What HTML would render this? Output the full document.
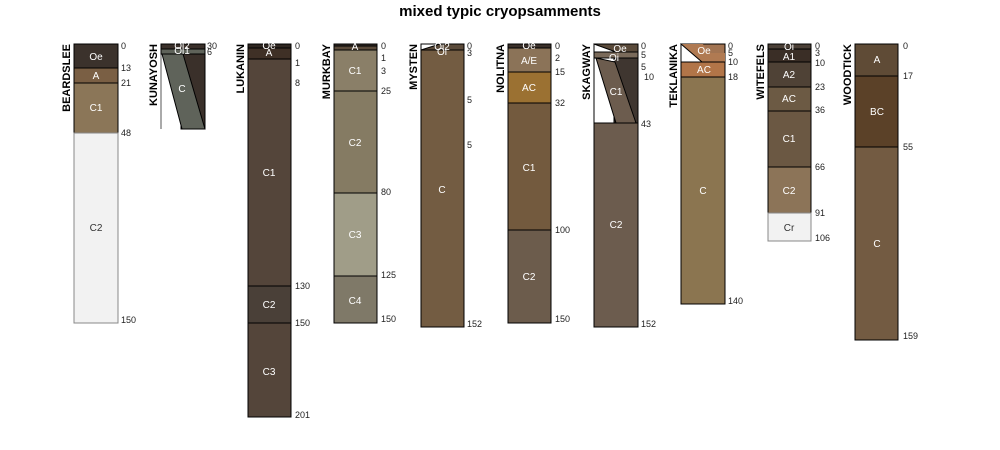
<!DOCTYPE html>
<html><head><meta charset="utf-8"><style>
body{margin:0;background:#fff}
svg{display:block;font-family:"Liberation Sans",sans-serif}
.h{fill:#fff;font-size:10px;text-anchor:middle}
.d{fill:#222;font-size:9px}
.n{font-size:11px;font-weight:bold;fill:#000}
rect,polygon{stroke:#000;stroke-width:1}
</style></head><body>
<svg width="1000" height="450" viewBox="0 0 1000 450">
<rect x="0" y="0" width="1000" height="450" fill="#fff" style="stroke:none"/>
<text x="500" y="16" text-anchor="middle" font-size="15" font-weight="bold">mixed typic cryopsamments</text>

<!-- BEARDSLEE -->
<text class="n" transform="translate(70,44) rotate(-90)" text-anchor="end">BEARDSLEE</text>
<rect x="74" y="44" width="44" height="24" fill="#3b322c"/>
<rect x="74" y="68" width="44" height="15" fill="#7a5f44"/>
<rect x="74" y="83" width="44" height="50" fill="#8b7658"/>
<rect x="74" y="133" width="44" height="190" fill="#f2f2f2" style="stroke:#888"/>
<text class="h" x="96" y="60">Oe</text><text class="h" x="96" y="79">A</text><text class="h" x="96" y="111">C1</text><text class="h" x="96" y="231" style="fill:#333">C2</text>
<text class="d" x="121" y="49">0</text><text class="d" x="121" y="71">13</text><text class="d" x="121" y="86">21</text><text class="d" x="121" y="136">48</text><text class="d" x="121" y="323">150</text>

<!-- KUNAYOSH -->
<text class="n" transform="translate(157,44) rotate(-90)" text-anchor="end">KUNAYOSH</text>
<line x1="161" y1="44" x2="161" y2="129" stroke="#555"/>
<rect x="181" y="54" width="24" height="75" fill="#3a302a"/>
<polygon points="162,54 183,54 205,129 182,129" fill="#5f635a"/>
<rect x="161" y="44" width="44" height="5" fill="#3a302a"/>
<rect x="161" y="49" width="44" height="5" fill="#5f635a"/>
<text class="h" x="182" y="49" font-size="9">Oi2</text><text class="h" x="182" y="54" font-size="9">Oi1</text><text class="h" x="182" y="92">C</text>
<text class="d" x="207" y="49" font-size="7">30</text><text class="d" x="207" y="55" font-size="7">6</text>

<!-- LUKANIN -->
<text class="n" transform="translate(244,44) rotate(-90)" text-anchor="end">LUKANIN</text>
<rect x="248" y="44" width="43" height="4" fill="#2f2620"/>
<rect x="248" y="48" width="43" height="11" fill="#3f3026"/>
<rect x="248" y="59" width="43" height="227" fill="#54453a"/>
<rect x="248" y="286" width="43" height="37" fill="#4a4038"/>
<rect x="248" y="323" width="43" height="94" fill="#54453a"/>
<text class="h" x="269" y="49">Oe</text><text class="h" x="269" y="56">A</text><text class="h" x="269" y="176">C1</text><text class="h" x="269" y="308">C2</text><text class="h" x="269" y="375">C3</text>
<text class="d" x="295" y="49">0</text><text class="d" x="295" y="66">1</text><text class="d" x="295" y="86">8</text><text class="d" x="295" y="289">130</text><text class="d" x="295" y="326">150</text><text class="d" x="295" y="418">201</text>

<!-- MURKBAY -->
<text class="n" transform="translate(330,44) rotate(-90)" text-anchor="end">MURKBAY</text>
<rect x="334" y="44" width="43" height="2" fill="#3a302a"/>
<rect x="334" y="46" width="43" height="4" fill="#5a4a3a"/>
<rect x="334" y="50" width="43" height="41" fill="#8a7f68"/>
<rect x="334" y="91" width="43" height="102" fill="#857b63"/>
<rect x="334" y="193" width="43" height="83" fill="#a09d88"/>
<rect x="334" y="276" width="43" height="47" fill="#7f7968"/>
<text class="h" x="355" y="50">A</text><text class="h" x="355" y="74">C1</text><text class="h" x="355" y="146">C2</text><text class="h" x="355" y="238">C3</text><text class="h" x="355" y="304">C4</text>
<text class="d" x="381" y="49">0</text><text class="d" x="381" y="61">1</text><text class="d" x="381" y="74">3</text><text class="d" x="381" y="94">25</text><text class="d" x="381" y="195">80</text><text class="d" x="381" y="278">125</text><text class="d" x="381" y="322">150</text>

<!-- MYSTEN -->
<text class="n" transform="translate(417,44) rotate(-90)" text-anchor="end">MYSTEN</text>
<rect x="421" y="44" width="43" height="283" fill="#735c42"/>
<rect x="421" y="44" width="43" height="6" fill="#5a4a3a"/>
<polygon points="421,44 440,44 421,50" fill="#fff"/>
<line x1="421" y1="50" x2="464" y2="50" stroke="#000"/>
<text class="h" x="442" y="50" font-size="9">Oi2</text><text class="h" x="442" y="55" font-size="9">Oi</text><text class="h" x="442" y="193">C</text>
<text class="d" x="467" y="49">0</text><text class="d" x="467" y="56">3</text><text class="d" x="467" y="103">5</text><text class="d" x="467" y="148">5</text><text class="d" x="467" y="327">152</text>

<!-- NOLITNA -->
<text class="n" transform="translate(504,44) rotate(-90)" text-anchor="end">NOLITNA</text>
<rect x="508" y="44" width="43" height="4" fill="#3a302a"/>
<rect x="508" y="48" width="43" height="24" fill="#8b7358"/>
<rect x="508" y="72" width="43" height="31" fill="#9b7132"/>
<rect x="508" y="103" width="43" height="127" fill="#735a3e"/>
<rect x="508" y="230" width="43" height="93" fill="#6c5c4c"/>
<text class="h" x="529" y="49">Oe</text><text class="h" x="529" y="64">A/E</text><text class="h" x="529" y="91">AC</text><text class="h" x="529" y="171">C1</text><text class="h" x="529" y="280">C2</text>
<text class="d" x="555" y="49">0</text><text class="d" x="555" y="61">2</text><text class="d" x="555" y="75">15</text><text class="d" x="555" y="106">32</text><text class="d" x="555" y="233">100</text><text class="d" x="555" y="322">150</text>

<!-- SKAGWAY -->
<text class="n" transform="translate(590,44) rotate(-90)" text-anchor="end">SKAGWAY</text>
<rect x="594" y="44" width="44" height="8" fill="#5a4a3a"/>
<polygon points="594,44 616,52 594,52" fill="#fff"/>
<rect x="594" y="52" width="44" height="6" fill="#7a6a5a"/>
<rect x="594" y="58" width="44" height="65" fill="#fff"/>
<rect x="614" y="58" width="24" height="65" fill="#3f3630"/>
<polygon points="596,58 615,62 636,123 616,123" fill="#6c5c4e"/>
<rect x="594" y="123" width="44" height="204" fill="#6c5c4e"/>
<text class="h" x="620" y="52">Oe</text><text class="h" x="614" y="61">Oi</text><text class="h" x="616" y="95">C1</text><text class="h" x="616" y="228">C2</text>
<text class="d" x="641" y="49">0</text><text class="d" x="641" y="58">5</text><text class="d" x="641" y="70">5</text><text class="d" x="644" y="80">10</text><text class="d" x="641" y="127">43</text><text class="d" x="641" y="327">152</text>

<!-- TEKLANIKA -->
<text class="n" transform="translate(677,44) rotate(-90)" text-anchor="end">TEKLANIKA</text>
<rect x="681" y="44" width="44" height="18" fill="#a27452"/>
<polygon points="681,44 703,44 709,53 725,53 725,62 702,62 681,50" fill="#b07a52" style="stroke:none"/>
<polygon points="681,44 702,62 681,62" fill="#fff"/>
<rect x="681" y="62" width="44" height="15" fill="#b27548"/>
<rect x="681" y="77" width="44" height="227" fill="#8b7550"/>
<text class="h" x="704" y="54">Oe</text><text class="h" x="704" y="73">AC</text><text class="h" x="703" y="194">C</text>
<text class="d" x="728" y="49">0</text><text class="d" x="728" y="56">5</text><text class="d" x="728" y="65">10</text><text class="d" x="728" y="80">18</text><text class="d" x="728" y="304">140</text>

<!-- WITEFELS -->
<text class="n" transform="translate(764,44) rotate(-90)" text-anchor="end">WITEFELS</text>
<rect x="768" y="44" width="43" height="5" fill="#4a3f36"/>
<rect x="768" y="49" width="43" height="13" fill="#3a2e26"/>
<rect x="768" y="62" width="43" height="25" fill="#4f4236"/>
<rect x="768" y="87" width="43" height="24" fill="#6c5a44"/>
<rect x="768" y="111" width="43" height="56" fill="#6b5843"/>
<rect x="768" y="167" width="43" height="46" fill="#8c7458"/>
<rect x="768" y="213" width="43" height="28" fill="#f2f2f2" style="stroke:#888"/>
<text class="h" x="789" y="50">Oi</text><text class="h" x="789" y="60">A1</text><text class="h" x="789" y="78">A2</text><text class="h" x="789" y="102">AC</text><text class="h" x="789" y="142">C1</text><text class="h" x="789" y="194">C2</text><text class="h" x="789" y="231" style="fill:#333">Cr</text>
<text class="d" x="815" y="49">0</text><text class="d" x="815" y="56">3</text><text class="d" x="815" y="66">10</text><text class="d" x="815" y="90">23</text><text class="d" x="815" y="113">36</text><text class="d" x="815" y="170">66</text><text class="d" x="815" y="216">91</text><text class="d" x="815" y="241">106</text>

<!-- WOODTICK -->
<text class="n" transform="translate(851,44) rotate(-90)" text-anchor="end">WOODTICK</text>
<rect x="855" y="44" width="43" height="32" fill="#5f4b36"/>
<rect x="855" y="76" width="43" height="71" fill="#5b4128"/>
<rect x="855" y="147" width="43" height="193" fill="#735b42"/>
<text class="h" x="877" y="63">A</text><text class="h" x="877" y="115">BC</text><text class="h" x="877" y="247">C</text>
<text class="d" x="903" y="49">0</text><text class="d" x="903" y="79">17</text><text class="d" x="903" y="150">55</text><text class="d" x="903" y="339">159</text>
</svg>
</body></html>
